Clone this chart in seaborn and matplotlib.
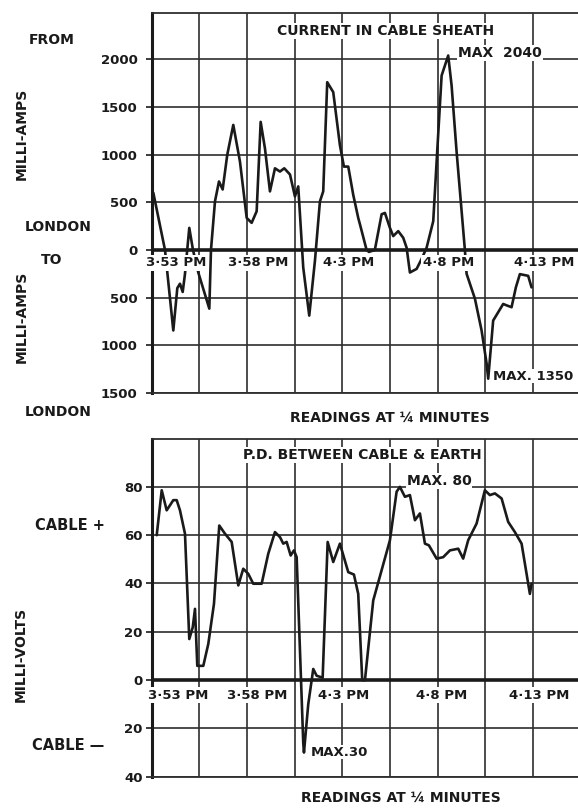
import matplotlib
matplotlib.use("Agg")
import matplotlib.pyplot as plt
import seaborn as sns
import pandas as pd
import numpy as np

sns.set_theme(style="white")
plt.rcParams['font.family'] = ['DejaVu Sans']

# ---------------- data (readings at 1/4 minutes, index from 3.53 PM start) ----------------
current_reading = [0.34, 2.79, 4.53, 5.37, 5.93, 6.5, 6.98, 7.88, 8.66, 9.77, 12.08, 12.43,
                   13.27, 14.11, 14.88, 15.85, 17.11, 18.51, 19.92, 20.96, 22.01, 22.85,
                   23.75, 24.8, 25.85, 26.9, 27.8, 29.0, 30.04, 30.73, 31.78, 33.04, 34.23,
                   35.28, 35.97, 36.81, 38.07, 39.47, 40.31, 41.22, 42.26, 43.31, 43.67,
                   45.07, 45.56, 46.79, 48.22, 48.91, 49.96, 50.65, 51.7, 52.75, 53.46,
                   54.15, 55.56, 56.6, 57.65, 59.04, 59.87, 60.8, 62.18, 62.89, 63.94,
                   65.68, 66.04, 67.78, 69.18, 70.23, 70.57, 71.61, 72.66, 73.71, 74.55,
                   75.47, 76.37, 77.21, 78.95, 79.66]
current_ma = [600, 0, -844, -400, -354, -440, -250, 232, 0, -236, -615, 0,
              510, 719, 635, 1000, 1312, 927, 337, 285, 406, 1344,
              1066, 615, 857, 823, 857, 792, 562, 667, -184, -688, -115,
              510, 615, 1760, 1656, 1100, 875, 875, 580, 337, 270,
              0, -20, 0, 375, 389, 232, 146, 198, 128, 24,
              -236, -198, -94, 24, 302, 1031, 1830, 2040, 1727, 1031,
              0, -250, -510, -844, -1190, -1350, -740, -653, -566, -583,
              -600, -392, -253, -271, -392]

pd_reading = [1.05, 2.1, 3.14, 4.53, 5.24, 5.93, 6.98, 7.88, 8.6, 9.08, 9.56, 10.82,
              11.87, 13.06, 14.17, 15.37, 16.77, 18.16, 19.2, 20.25, 21.3, 23.06,
              24.44, 25.85, 26.9, 27.59, 28.3, 29.14, 29.83, 30.4, 31.78, 31.93,
              32.83, 33.88, 34.59, 35.85, 36.9, 38.07, 39.47, 41.22, 42.41, 43.31,
              44.15, 44.72, 46.46, 49.96, 51.36, 52.05, 53.1, 54.15, 55.2, 56.25,
              57.3, 58.13, 59.75, 61.13, 62.54, 64.28, 65.32, 66.37, 68.13, 69.87,
              70.92, 71.97, 73.38, 74.76, 76.16, 77.57, 79.31, 79.66]
pd_mv = [60, 78.6, 70.3, 74.5, 74.5, 70.3, 60.6, 17, 21.8, 29.5, 5.9, 5.9,
         15, 31.6, 64, 60.6, 57.2, 39.2, 46.1, 44, 39.9, 39.9,
         52.3, 61.3, 59.2, 56.5, 57.2, 51.6, 53.7, 50.9, -25.9, -30,
         -10, 4.6, 1.8, 1, 57.2, 48.9, 56.5, 44.7, 43.7, 35.7,
         0, 0, 33, 57.9, 78, 80, 75.9, 76.6, 66.2, 69,
         56.5, 55.8, 50.3, 50.9, 53.7, 54.4, 50.3, 57.9, 64.8, 78.6,
         76.6, 77.3, 75.2, 65.5, 61.3, 56.5, 35.7, 39.9]

current_ticks = [2000, 1500, 1000, 500, 0, -500, -1000, -1500]
current_ticklabels = ["2000", "1500", "1000", "500", "0", "500", "1000", "1500"]
pd_ticks = [80, 60, 40, 20, 0, -20, -40]
pd_ticklabels = ["80", "60", "40", "20", "0", "20", "40"]

time_labels = ["3·53 PM", "3·58 PM", "4·3 PM", "4·8 PM", "4·13 PM"]
time_pos_top = [5.1, 22.3, 41.4, 62.3, 82.3]
time_pos_bottom = [5.5, 22.1, 40.3, 60.9, 81.2]

df_cur = pd.DataFrame({"reading": current_reading, "ma": current_ma})
df_pd = pd.DataFrame({"reading": pd_reading, "mv": pd_mv})

# ---------------- figure ----------------
W, H = 578, 808
fig = plt.figure(figsize=(W / 100, H / 100), dpi=100)
fig.patch.set_facecolor("white")

def px(x, y):
    return x / W, 1 - y / H

ax1 = fig.add_axes([151.7 / W, 1 - 393 / H, (W - 151.7) / W, (393 - 13.3) / H])
ax2 = fig.add_axes([151.7 / W, 1 - 776.7 / H, (W - 151.7) / W, (776.7 - 439.3) / H])

GRID = "#2e2e2e"
INK = "#1a1a1a"
FW = "bold"

def style(ax, ylim, yticks, ylabels, pad):
    ax.set_xlim(0, 89.4)
    ax.set_ylim(*ylim)
    ax.set_xticks(np.arange(10, 90, 10))
    ax.set_xticklabels([])
    ax.set_yticks(yticks)
    ax.set_yticklabels(ylabels, fontsize=9.5, fontweight=FW, color=INK)
    ax.grid(True, color=GRID, lw=1.2)
    ax.set_axisbelow(True)
    ax.tick_params(axis="x", length=0, bottom=False)
    ax.tick_params(axis="y", left=True, length=4, width=1.2, color=INK,
                   pad=pad, direction="out")
    ax.spines["right"].set_visible(False)
    ax.spines["left"].set_linewidth(2.2)
    ax.spines["left"].set_color(INK)
    ax.spines["top"].set_linewidth(1.3)
    ax.spines["top"].set_color(GRID)
    ax.spines["bottom"].set_linewidth(1.3)
    ax.spines["bottom"].set_color(GRID)
    ax.axhline(0, color=INK, lw=2.6, zorder=2)
    ax.set_xlabel("")
    ax.set_ylabel("")
    ax.set_facecolor("white")

sns.lineplot(data=df_cur, x="reading", y="ma", ax=ax1, color=INK, lw=1.9,
             sort=False, estimator=None, zorder=3)
sns.lineplot(data=df_pd, x="reading", y="mv", ax=ax2, color=INK, lw=1.9,
             sort=False, estimator=None, zorder=3)

style(ax1, (-1500, 2483), current_ticks, current_ticklabels, 6)
style(ax2, (-40, 99.7), pd_ticks, pd_ticklabels, 2.5)

box = dict(facecolor="white", edgecolor="none", pad=1.2)
for lab, xp in zip(time_labels, time_pos_top):
    ax1.text(xp, -136, lab, ha="center", va="center", fontsize=9.5,
             fontweight=FW, color=INK, bbox=box, zorder=6, clip_on=False)
for lab, xp in zip(time_labels, time_pos_bottom):
    ax2.text(xp, -6.2, lab, ha="center", va="center", fontsize=9.5,
             fontweight=FW, color=INK, bbox=box, zorder=6, clip_on=False)

def t(x, y, s, size=10.5, **kw):
    fig.text(*px(x, y), s, ha=kw.pop("ha", "center"), va=kw.pop("va", "center"),
             fontsize=size, fontweight=FW, color=INK, **kw)

# panel titles and annotations
t(386, 31, "CURRENT IN CABLE SHEATH", 10, bbox=dict(facecolor="white", edgecolor="none", pad=1))
t(500, 53, "MAX  2040", 10, bbox=dict(facecolor="white", edgecolor="none", pad=0.5))
t(533, 376, "MAX. 1350", 9.5, bbox=dict(facecolor="white", edgecolor="none", pad=0.5))
t(390, 418, "READINGS AT ¼ MINUTES", 10)
t(362, 455, "P.D. BETWEEN CABLE & EARTH", 10, bbox=dict(facecolor="white", edgecolor="none", pad=1))
t(439, 481, "MAX. 80", 10, bbox=dict(facecolor="white", edgecolor="none", pad=0.5))
t(339, 752, "MAX.30", 9.5, bbox=dict(facecolor="white", edgecolor="none", pad=0.5))
t(401, 798, "READINGS AT ¼ MINUTES", 10)

# left side labels
t(52, 40, "FROM", 10)
t(22, 134, "MILLI-AMPS", 10, rotation=90)
t(58, 227, "LONDON", 10)
t(52, 260, "TO", 10)
t(22, 317, "MILLI-AMPS", 10, rotation=90)
t(58, 412, "LONDON", 10)
t(70, 525, "CABLE +", 10.5)
t(21, 654, "MILLI-VOLTS", 10, rotation=90)
t(68, 745, "CABLE —", 10.5)

fig.savefig("out.png", dpi=100, facecolor="white")
